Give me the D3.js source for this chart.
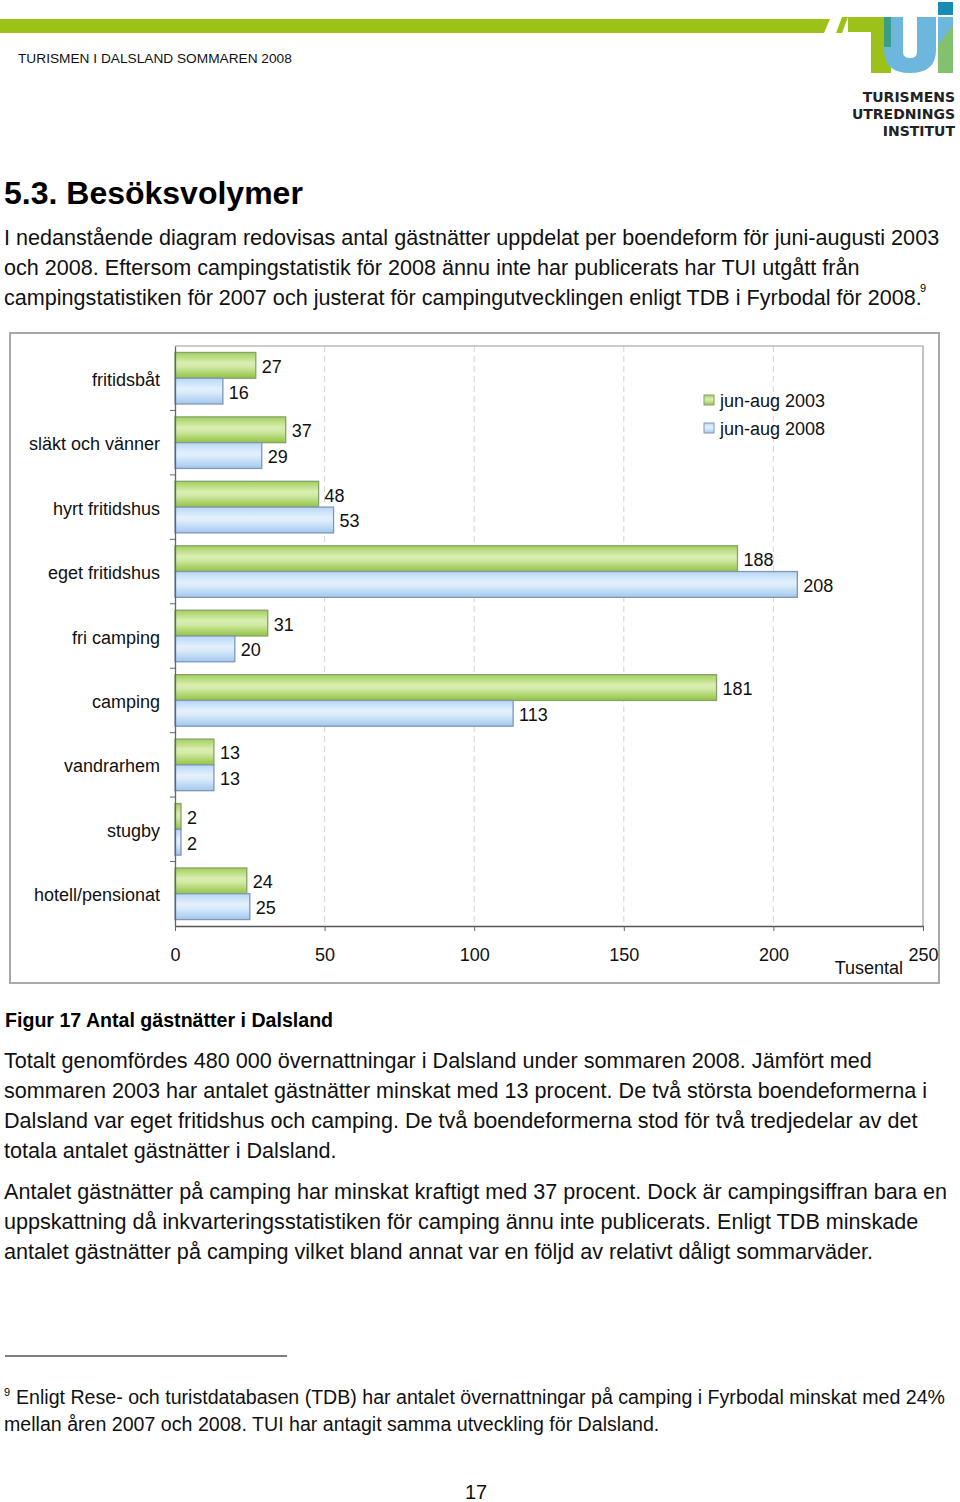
<!DOCTYPE html>
<html>
<head>
<meta charset="utf-8">
<script src="https://cdn.jsdelivr.net/npm/d3@7"></script>
<style>
  body { margin: 0; background: #fff; }
  svg { display: block; font-family: "Liberation Sans", Arial, sans-serif; }
</style>
</head>
<body>
<div id="page"></div>
<script>
// chart data (thousands of guest nights)
const categories = ["fritidsbåt", "släkt och vänner", "hyrt fritidshus", "eget fritidshus",
    "fri camping", "camping", "vandrarhem", "stugby", "hotell/pensionat"];
const series = ["jun-aug 2003", "jun-aug 2008"];
const values2003 = [27, 37, 48, 188, 31, 181, 13, 2, 24];
const values2008 = [16, 29, 53, 208, 20, 113, 13, 2, 25];
const xTicks = [0, 50, 100, 150, 200, 250];

// page text
const introLines = [
    "I nedanstående diagram redovisas antal gästnätter uppdelat per boendeform för juni-augusti 2003",
    "och 2008. Eftersom campingstatistik för 2008 ännu inte har publicerats har TUI utgått från",
    "campingstatistiken för 2007 och justerat för campingutvecklingen enligt TDB i Fyrbodal för 2008."
];
const para1 = [
    "Totalt genomfördes 480 000 övernattningar i Dalsland under sommaren 2008. Jämfört med",
    "sommaren 2003 har antalet gästnätter minskat med 13 procent. De två största boendeformerna i",
    "Dalsland var eget fritidshus och camping. De två boendeformerna stod för två tredjedelar av det",
    "totala antalet gästnätter i Dalsland."
];
const para2 = [
    "Antalet gästnätter på camping har minskat kraftigt med 37 procent. Dock är campingsiffran bara en",
    "uppskattning då inkvarteringsstatistiken för camping ännu inte publicerats. Enligt TDB minskade",
    "antalet gästnätter på camping vilket bland annat var en följd av relativt dåligt sommarväder."
];
const footLines = [
    "Enligt Rese- och turistdatabasen (TDB) har antalet övernattningar på camping i Fyrbodal minskat med 24%",
    "mellan åren 2007 och 2008. TUI har antagit samma utveckling för Dalsland."
];

const W = 960, H = 1502;
const BODY = 21.6, LABEL = 18;

const svg = d3.select("#page").append("svg")
    .attr("width", W)
    .attr("height", H);

const defs = svg.append("defs");

function addGradient(id, stops) {
    let g = defs.append("linearGradient")
        .attr("id", id)
        .attr("x1", 0).attr("y1", 0).attr("x2", 0).attr("y2", 1);
    g.selectAll("stop")
        .data(stops)
        .join("stop")
        .attr("offset", d => d[0])
        .attr("stop-color", d => d[1]);
}
addGradient("gGreen", [[0, "#a3cf5c"], [0.4, "#d9eeb2"], [0.55, "#d2eaa6"], [1, "#92c343"]]);
addGradient("gBlue", [[0, "#b8d7f6"], [0.4, "#e3f0fd"], [0.55, "#dbebfb"], [1, "#a2c8ef"]]);

const fills = ["url(#gGreen)", "url(#gBlue)"];
const strokes = ["#86a36a", "#8197b4"];

// ---- header ----
svg.append("polygon")
    .attr("points", "0,19 830,19 824,33 0,33")
    .attr("fill", "#9cc21a");

svg.append("text")
    .attr("x", 18).attr("y", 63)
    .attr("font-size", 13.7)
    .attr("fill", "#111")
    .text("TURISMEN I DALSLAND SOMMAREN 2008");

// logo
let logo = svg.append("g");
logo.append("polygon").attr("points", "836,33 842,17 848,17 842,33").attr("fill", "#9cc21a");
logo.append("rect").attr("x", 848).attr("y", 17).attr("width", 46).attr("height", 15).attr("fill", "#9cc21a");
logo.append("rect").attr("x", 871).attr("y", 17).attr("width", 20).attr("height", 56).attr("fill", "#9cc21a");
logo.append("path")
    .attr("d", "M884,17 L903,17 L903,52 Q903,58 910,58 Q917,58 917,52 L917,17 L936,17 L936,50 Q936,73 910,73 Q884,73 884,50 Z")
    .attr("fill", "#6db6de");
logo.append("rect").attr("x", 884).attr("y", 17).attr("width", 7).attr("height", 30).attr("fill", "#3a9d8c");
logo.append("rect").attr("x", 938).attr("y", 17).attr("width", 15).attr("height", 56).attr("fill", "#6db6de");
logo.append("polygon").attr("points", "938,45 953,25 953,73 938,73").attr("fill", "#8dc63f").attr("opacity", 0.7);
logo.append("rect").attr("x", 938).attr("y", 2).attr("width", 15).attr("height", 13).attr("fill", "#1a8cb4");

logo.selectAll("text.logo")
    .data(["TURISMENS", "UTREDNINGS", "INSTITUT"])
    .join("text")
    .attr("class", "logo")
    .attr("x", 955)
    .attr("y", (d, i) => 102 + i * 17)
    .attr("text-anchor", "end")
    .attr("font-family", "'DejaVu Sans', sans-serif")
    .attr("font-weight", "bold")
    .attr("font-size", 14)
    .attr("fill", "#222")
    .text(d => d);

// ---- heading & intro ----
svg.append("text")
    .attr("x", 4).attr("y", 204)
    .attr("font-size", 32)
    .attr("font-weight", "bold")
    .attr("fill", "#000")
    .text("5.3.  Besöksvolymer");

function paragraph(lines, x, y0, lh, size) {
    svg.append("g").selectAll("text")
        .data(lines)
        .join("text")
        .attr("x", x)
        .attr("y", (d, i) => y0 + i * lh)
        .attr("font-size", size)
        .attr("fill", "#111")
        .text(d => d);
}
paragraph(introLines, 4, 245, 30, BODY);
svg.append("text")
    .attr("x", 920).attr("y", 292)
    .attr("font-size", 11)
    .text("9");

// ---- chart ----
svg.append("rect")
    .attr("x", 10).attr("y", 333)
    .attr("width", 929).attr("height", 650)
    .attr("fill", "#fff")
    .attr("stroke", "#a8a8a8")
    .attr("stroke-width", 2);

const plot = { left: 175, right: 923, top: 346, bottom: 926 };

const x = d3.scaleLinear()
    .domain([0, 250])
    .range([plot.left, plot.right]);

const y = d3.scaleBand()
    .domain(categories)
    .range([plot.top, plot.bottom])
    .paddingInner(0.2)
    .paddingOuter(0.1);

const ySub = d3.scaleBand()
    .domain(series)
    .range([0, y.bandwidth()]);

// grid
svg.append("g")
    .selectAll("line")
    .data(xTicks.slice(1, -1))
    .join("line")
    .attr("x1", d => x(d)).attr("x2", d => x(d))
    .attr("y1", plot.top).attr("y2", plot.bottom)
    .attr("stroke", "#d4d4d4")
    .attr("stroke-dasharray", "6,4");

// plot frame (top and right)
svg.append("path")
    .attr("d", `M${plot.left},${plot.top}H${plot.right}V${plot.bottom}`)
    .attr("fill", "none")
    .attr("stroke", "#9a9a9a")
    .attr("stroke-width", 1.2);

// bars
const rows = categories.map((c, i) => ({ cat: c, vals: [values2003[i], values2008[i]] }));
let group = svg.append("g")
    .selectAll("g")
    .data(rows)
    .join("g")
    .attr("transform", d => `translate(0,${y(d.cat)})`);

let bar = group.selectAll("g")
    .data(d => d.vals.map((v, k) => ({ s: series[k], v: v, k: k })))
    .join("g");

bar.append("rect")
    .attr("x", x(0))
    .attr("y", d => ySub(d.s))
    .attr("width", d => x(d.v) - x(0))
    .attr("height", ySub.bandwidth())
    .attr("fill", d => fills[d.k])
    .attr("stroke", d => strokes[d.k])
    .attr("stroke-width", 1.3);

bar.append("text")
    .attr("x", d => x(d.v) + 6)
    .attr("y", d => ySub(d.s) + ySub.bandwidth() / 2 + 1)
    .attr("dy", "0.36em")
    .attr("font-size", LABEL)
    .attr("fill", "#111")
    .text(d => d.v);

// axes
const yAxis = svg.append("g")
    .attr("transform", `translate(${plot.left},0)`)
    .call(d3.axisLeft(y).tickSize(0).tickPadding(15));
yAxis.select(".domain").attr("stroke", "#666").attr("stroke-width", 1.3);
yAxis.selectAll("text").attr("font-size", LABEL).attr("fill", "#111")
    .attr("dy", "0.42em")
    .attr("font-family", "'Liberation Sans', Arial, sans-serif");

// category separators on the left axis
svg.append("g")
    .selectAll("line")
    .data(categories.slice(1))
    .join("line")
    .attr("x1", plot.left - 5).attr("x2", plot.left)
    .attr("y1", d => y(d) - y.step() * y.paddingInner() / 2)
    .attr("y2", d => y(d) - y.step() * y.paddingInner() / 2)
    .attr("stroke", "#666");

const xAxis = svg.append("g")
    .attr("transform", `translate(0,${plot.bottom})`)
    .call(d3.axisBottom(x).tickValues(xTicks).tickSize(5).tickPadding(17).tickSizeOuter(0));
xAxis.select(".domain").attr("stroke", "#555").attr("stroke-width", 1.3);
xAxis.selectAll("line").attr("stroke", "#666");
xAxis.selectAll("text").attr("font-size", LABEL).attr("fill", "#111")
    .attr("font-family", "'Liberation Sans', Arial, sans-serif");

svg.append("text")
    .attr("x", 903).attr("y", 974)
    .attr("text-anchor", "end")
    .attr("font-size", LABEL)
    .attr("fill", "#111")
    .text("Tusental");

// legend
let legend = svg.append("g")
    .selectAll("g")
    .data(series)
    .join("g")
    .attr("transform", (d, i) => `translate(704,${395 + i * 28})`);
legend.append("rect")
    .attr("width", 10).attr("height", 10)
    .attr("fill", (d, i) => fills[i])
    .attr("stroke", (d, i) => strokes[i]);
legend.append("text")
    .attr("x", 16).attr("y", 6)
    .attr("dy", "0.36em")
    .attr("font-size", LABEL)
    .attr("fill", "#111")
    .text(d => d);

// ---- caption & body ----
svg.append("text")
    .attr("x", 5).attr("y", 1027)
    .attr("font-size", 19.6)
    .attr("font-weight", "bold")
    .attr("fill", "#000")
    .text("Figur 17 Antal gästnätter i Dalsland");

paragraph(para1, 4, 1068, 30, BODY);
paragraph(para2, 4, 1199, 30, BODY);

svg.append("line")
    .attr("x1", 5).attr("x2", 287)
    .attr("y1", 1356).attr("y2", 1356)
    .attr("stroke", "#000");

svg.append("text")
    .attr("x", 4).attr("y", 1396)
    .attr("font-size", 11)
    .text("9");
svg.append("g").selectAll("text")
    .data(footLines)
    .join("text")
    .attr("x", (d, i) => i === 0 ? 16 : 4)
    .attr("y", (d, i) => 1404 + i * 27)
    .attr("font-size", 19.6)
    .attr("fill", "#111")
    .text(d => d);

svg.append("text")
    .attr("x", 476).attr("y", 1499)
    .attr("text-anchor", "middle")
    .attr("font-size", 20)
    .attr("fill", "#111")
    .text("17");
</script>
</body>
</html>
